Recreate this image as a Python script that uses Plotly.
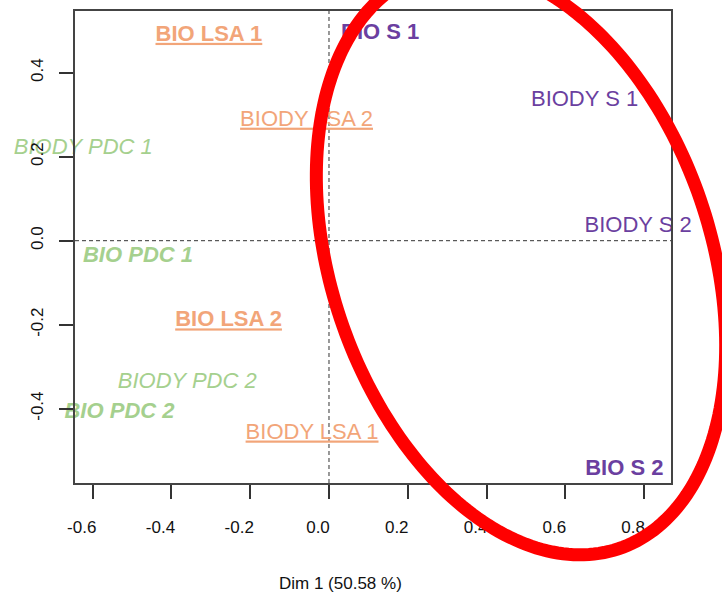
import numpy as np
import plotly.graph_objects as go

# Individuals on the first factorial plane
labels = ["BIO LSA 1", "BIO S 1", "BIODY S 1", "BIODY S 2", "BIO S 2", "BIODY LSA 2",
          "BIODY PDC 1", "BIO PDC 1", "BIO LSA 2", "BIODY PDC 2", "BIO PDC 2", "BIODY LSA 1"]
dim1 = [-0.305, 0.130, 0.649, 0.785, 0.750, -0.057, -0.624, -0.485, -0.255, -0.360, -0.532, -0.043]
dim2 = [0.489, 0.493, 0.333, 0.033, -0.544, 0.287, 0.220, -0.037, -0.191, -0.337, -0.408, -0.458]
site = ["LSA", "S", "S", "S", "S", "LSA", "PDC", "PDC", "LSA", "PDC", "PDC", "LSA"]

site_colors = {"LSA": "#F2A579", "S": "#6B3FA0", "PDC": "#A5D08E"}

x_ticks = [-0.6, -0.4, -0.2, 0.0, 0.2, 0.4, 0.6, 0.8]
y_ticks = [-0.4, -0.2, 0.0, 0.2, 0.4]
x_range = [-0.645, 0.8685]
y_range = [-0.577, 0.547]

FONT = "Liberation Sans, Arial, sans-serif"


def styled(name, grp):
    s = name
    if grp == "PDC":
        s = "<i>" + s + "</i>"
    if name.startswith("BIO "):
        s = "<b>" + s + "</b>"
    if grp == "LSA":
        s = "<u>" + s + "</u>"
    return s


fig = go.Figure()
for grp in ["LSA", "S", "PDC"]:
    idx = [i for i, g in enumerate(site) if g == grp]
    fig.add_trace(go.Scatter(
        x=[dim1[i] for i in idx],
        y=[dim2[i] for i in idx],
        mode="text",
        text=[styled(labels[i], grp) for i in idx],
        textposition="middle center",
        textfont=dict(family=FONT, size=22, color=site_colors[grp]),
        cliponaxis=False,
        showlegend=False,
        hoverinfo="skip",
    ))

# dashed reference lines through the origin
ref_line = dict(color="#333333", width=1, dash="4px,3px")
fig.add_shape(type="line", xref="x", yref="y", x0=x_range[0], x1=x_range[1], y0=0, y1=0,
              line=ref_line, layer="below")
fig.add_shape(type="line", xref="x", yref="y", x0=0, x1=0, y0=y_range[0], y1=y_range[1],
              line=ref_line, layer="below")

# hand-drawn highlight ellipse (sheared circle), expressed in data units
cx, cy = 0.4876, -0.0483
half_w, half_h, shear = 0.4977, 0.6997, 0.1498
s = np.linspace(0, 2 * np.pi, 240)
ex = cx + half_w * np.cos(s) + shear * np.sin(s)
ey = cy - half_h * np.sin(s)
px = (ex - x_range[0]) / (x_range[1] - x_range[0])
py = (ey - y_range[0]) / (y_range[1] - y_range[0])
path = "M " + " L ".join(f"{a:.5f},{b:.5f}" for a, b in zip(px, py)) + " Z"
fig.add_shape(type="path", xref="paper", yref="paper", path=path,
              line=dict(color="#FF0000", width=13), fillcolor="rgba(0,0,0,0)", layer="above")

fig.add_annotation(text="Dim 1 (50.58 %)", xref="paper", yref="paper",
                   x=(340 - 75) / 596, y=(483 - 584) / 474, showarrow=False,
                   xanchor="center", yanchor="middle",
                   font=dict(family=FONT, size=17, color="#111111"))

axis_common = dict(showgrid=False, zeroline=False, showline=True, mirror=True,
                   linecolor="#444444", linewidth=2, ticks="outside", ticklen=14,
                   tickwidth=2, tickcolor="#333333",
                   tickfont=dict(family=FONT, size=17, color="#111111"))

fig.update_xaxes(range=x_range, tickvals=x_ticks, ticktext=[f"{v:.1f}" for v in x_ticks],
                 ticklabelstandoff=14, ticklabelshift=-11, **axis_common)
fig.update_yaxes(range=y_range, tickvals=y_ticks, ticktext=[f"{v:.1f}" for v in y_ticks],
                 tickangle=-90, ticklabelstandoff=9, **axis_common)

fig.update_layout(width=722, height=595, margin=dict(l=75, r=51, t=9, b=112),
                  paper_bgcolor="white", plot_bgcolor="white")

fig.write_html("out.html")
